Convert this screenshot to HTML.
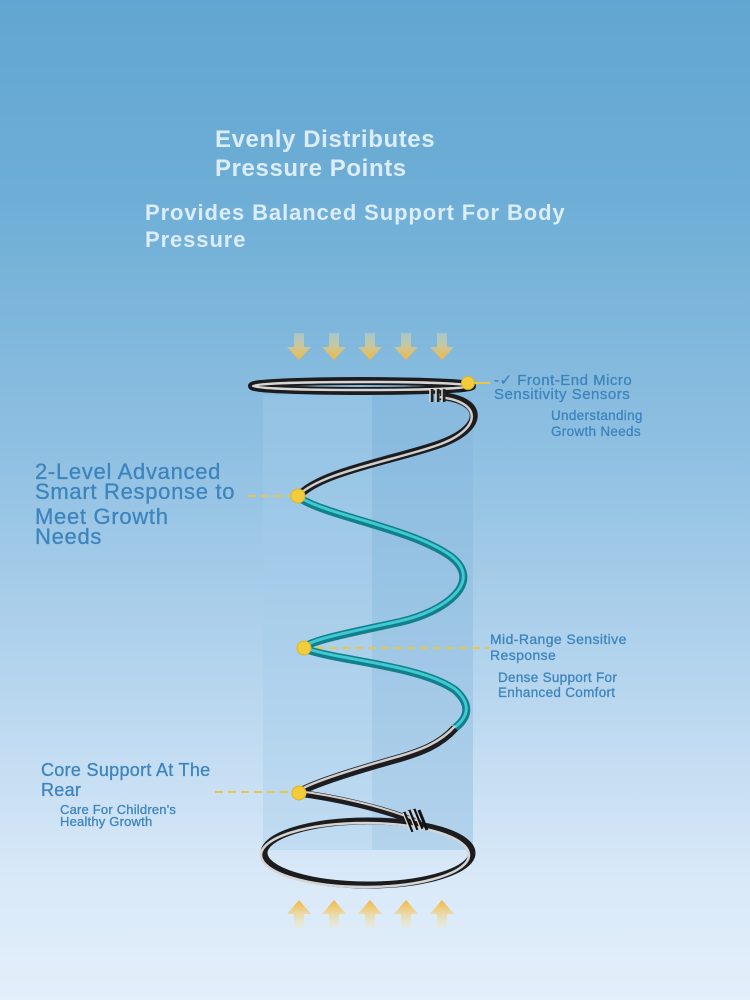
<!DOCTYPE html>
<html><head><meta charset="utf-8"><style>
html,body{margin:0;padding:0}
body{width:750px;height:1000px;position:relative;overflow:hidden;
background:linear-gradient(180deg,#61a6d2 0%,#6eaed6 20%,#8fc0e2 45%,#b9d7ef 70%,#d9e9f8 88%,#e3effb 100%);
font-family:"Liberation Sans",sans-serif}
.t{position:absolute;white-space:nowrap}
.w{color:#dcedf9;font-weight:bold}
.b{color:#3d84bd;-webkit-text-stroke:0.3px #3d84bd}
</style></head><body>
<div class="t w" style="left:215px;top:125px;font-size:24px;line-height:29px;letter-spacing:0.6px">Evenly Distributes<br>Pressure Points</div>
<div class="t w" style="left:145px;top:199px;font-size:22px;line-height:27px;letter-spacing:0.9px">Provides Balanced Support For Body<br>Pressure</div>

<div class="t b" style="left:494px;top:374px;font-size:15px;line-height:14px;letter-spacing:0.5px">-✓ Front-End Micro<br>Sensitivity Sensors</div>
<div class="t b" style="left:551px;top:408px;font-size:13.5px;line-height:16px;letter-spacing:0.3px">Understanding<br>Growth Needs</div>

<div class="t b" style="left:35px;top:462px;font-size:22px;line-height:20px;letter-spacing:0.7px">2-Level Advanced<br>Smart Response to</div>
<div class="t b" style="left:35px;top:507px;font-size:22px;line-height:20px;letter-spacing:0.7px">Meet Growth<br>Needs</div>

<div class="t b" style="left:490px;top:631px;font-size:14px;line-height:16px;letter-spacing:0.4px">Mid-Range Sensitive<br>Response</div>
<div class="t b" style="left:498px;top:670px;font-size:13.5px;line-height:15px;letter-spacing:0.3px">Dense Support For<br>Enhanced Comfort</div>

<div class="t b" style="left:41px;top:760px;font-size:18px;line-height:20px;letter-spacing:0.3px">Core Support At The<br>Rear</div>
<div class="t b" style="left:60px;top:804px;font-size:13px;line-height:12px;letter-spacing:0.2px">Care For Children's<br>Healthy Growth</div>

<svg width="750" height="1000" style="position:absolute;left:0;top:0">
<defs>
<linearGradient id="ar" x1="0" y1="0" x2="0" y2="1"><stop offset="0" stop-color="#f7e6a8" stop-opacity=".3"/><stop offset="1" stop-color="#f2b43c"/></linearGradient>
<linearGradient id="au" x1="0" y1="1" x2="0" y2="0"><stop offset="0" stop-color="#f7e6a8" stop-opacity=".2"/><stop offset="1" stop-color="#f2b43c"/></linearGradient>
</defs>
<rect x="263" y="395" width="109" height="455" fill="#a6cdea" opacity=".4"/>
<rect x="372" y="395" width="101" height="455" fill="#85b7dd" opacity=".4"/>
<g fill="url(#ar)">
<path d="M294,333h10v14h7l-12,13l-12,-13h7z"/>
<path d="M329,333h10v14h7l-12,13l-12,-13h7z"/>
<path d="M365,333h10v14h7l-12,13l-12,-13h7z"/>
<path d="M401,333h10v14h7l-12,13l-12,-13h7z"/>
<path d="M437,333h10v14h7l-12,13l-12,-13h7z"/>
</g>
<g fill="url(#au)">
<path d="M294,928h10v-14h7l-12,-14l-12,14h7z"/>
<path d="M329,928h10v-14h7l-12,-14l-12,14h7z"/>
<path d="M365,928h10v-14h7l-12,-14l-12,14h7z"/>
<path d="M401,928h10v-14h7l-12,-14l-12,14h7z"/>
<path d="M437,928h10v-14h7l-12,-14l-12,14h7z"/>
</g>
<g stroke="#e8c64a" stroke-width="2" stroke-dasharray="8 5" fill="none">
<line x1="248" y1="496" x2="298" y2="496"/>
<line x1="303" y1="648" x2="490" y2="648"/>
<line x1="215" y1="792" x2="298" y2="792"/>
</g>
<ellipse cx="362" cy="386" rx="110" ry="5" fill="none" stroke="#1c1c1e" stroke-width="8"/>
<ellipse cx="362" cy="386" rx="109" ry="4" fill="none" stroke="#d6d6d6" stroke-width="2.5"/>
<path d="M470,383 L490,383" stroke="#e8c64a" stroke-width="2"/>
<path d="M440,396 C485,400 485,428 440,444 C395,460 318,472 298,497" fill="none" stroke="#1d1d1f" stroke-width="8"/>
<path d="M440,396 C485,400 485,428 440,444 C395,460 318,472 298,497" fill="none" stroke="#cfcfcf" stroke-width="2.5" transform="translate(-2,1)"/>
<g stroke="#222" stroke-width="3" fill="none"><path d="M432,389v13M438,389v13M444,389v13"/></g>
<g stroke="#ddd" stroke-width="1.5" fill="none"><path d="M430,389v13M436,389v13M442,389v13"/></g>
<path d="M298,497 C325,516 410,528 450,556 C485,582 445,612 400,622 C350,633 312,640 303,648" fill="none" stroke="#127f8a" stroke-width="8"/>
<path d="M298,497 C325,516 410,528 450,556 C485,582 445,612 400,622 C350,633 312,640 303,648" fill="none" stroke="#3ec9d3" stroke-width="3" transform="translate(0,-1)"/>
<path d="M303,648 C330,660 420,665 455,690 C472,705 468,718 455,728" fill="none" stroke="#127f8a" stroke-width="8"/>
<path d="M303,648 C330,660 420,665 455,690 C472,705 468,718 455,728" fill="none" stroke="#3ec9d3" stroke-width="3" transform="translate(0,-1)"/>
<path d="M455,728 C440,745 420,752 400,758 C350,772 310,785 298,793" fill="none" stroke="#1d1d1f" stroke-width="8"/>
<path d="M455,728 C440,745 420,752 400,758 C350,772 310,785 298,793" fill="none" stroke="#cfcfcf" stroke-width="2.5" transform="translate(0,-2)"/>
<path d="M298,793 C330,797 385,808 420,824" fill="none" stroke="#1d1d1f" stroke-width="7"/>
<path d="M298,793 C330,797 385,808 420,824" fill="none" stroke="#cfcfcf" stroke-width="2" transform="translate(0,-2)"/>
<ellipse cx="368" cy="853" rx="104" ry="32" fill="none" stroke="#1c1c1e" stroke-width="7"/>
<ellipse cx="368" cy="853" rx="104" ry="32" fill="none" stroke="#d4d4d4" stroke-width="2.5" transform="translate(-3,2)"/>
<g stroke="#111" stroke-width="3" fill="none"><path d="M404,812l8,20M409,810l8,20M414,809l8,20M419,810l8,20"/></g>
<g stroke="#ddd" stroke-width="1.2" fill="none"><path d="M403,813l8,20M408,811l8,20M413,810l8,20"/></g>
<g fill="#f2cc3a" stroke="#e0b22a" stroke-width="1">
<circle cx="468" cy="383" r="6.5"/>
<circle cx="298" cy="496" r="7"/>
<circle cx="304" cy="648" r="7"/>
<circle cx="299" cy="793" r="7"/>
</g>
</svg>
</body></html>
